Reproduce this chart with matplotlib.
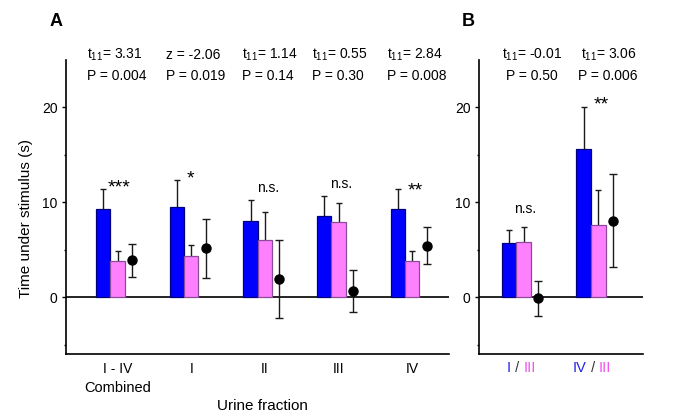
import matplotlib
matplotlib.use("Agg")
import matplotlib.pyplot as plt
import numpy as np

plt.rcParams['font.family'] = ['Liberation Sans', 'DejaVu Sans']
plt.rcParams['mathtext.fontset'] = 'custom'
plt.rcParams['mathtext.rm'] = 'Liberation Sans'
plt.rcParams['mathtext.it'] = 'Liberation Sans'

# ---- data ----
a_labels = ["I - IV", "I", "II", "III", "IV"]
a_blue = [9.27, 9.57, 8.02, 8.55, 9.29]
a_blue_err = [2.13, 2.82, 2.25, 2.15, 2.11]
a_pink = [3.87, 4.40, 6.08, 7.92, 3.87]
a_pink_err = [1.00, 1.13, 2.90, 2.00, 1.02]
a_dot = [3.90, 5.20, 1.97, 0.70, 5.45]
a_dot_err = [1.73, 3.10, 4.10, 2.18, 1.97]
a_stat1 = [r"t$_{11}$= 3.31", "z = -2.06", r"t$_{11}$= 1.14", r"t$_{11}$= 0.55", r"t$_{11}$= 2.84"]
a_stat2 = ["P = 0.004", "P = 0.019", "P = 0.14", "P = 0.30", "P = 0.008"]
a_sig = ["***", "*", "n.s.", "n.s.", "**"]

b_labels = [("I", "III"), ("IV", "III")]
b_blue = [5.77, 15.63]
b_blue_err = [1.37, 4.43]
b_pink = [5.87, 7.63]
b_pink_err = [1.55, 3.67]
b_dot = [-0.10, 8.09]
b_dot_err = [1.82, 4.90]
b_stat1 = [r"t$_{11}$= -0.01", r"t$_{11}$= 3.06"]
b_stat2 = ["P = 0.50", "P = 0.006"]
b_sig = ["n.s.", "**"]

# ---- style ----
BLUE = '#0000FF'
BLUE_E = '#00007A'
PINK = '#FF80FF'
PINK_E = '#8A4C98'
ERR = '#1a1a1a'
W = 0.195
OFF = 0.195

fig = plt.figure(figsize=(6.85, 4.2), dpi=100)
axA = fig.add_axes([66/685, 1-353.5/420, 383/685, 293.5/420])
axB = fig.add_axes([479/685, 1-353.5/420, 164/685, 293.5/420])


def draw(ax, blue, berr, pink, perr, dot, derr):
    x = np.arange(len(blue))
    ax.axhline(0, color='black', lw=1.2, zorder=1)
    ax.bar(x - OFF, blue, W, color=BLUE, edgecolor=BLUE_E, lw=0.9, zorder=3)
    ax.bar(x, pink, W, color=PINK, edgecolor=PINK_E, lw=0.9, zorder=3)
    # one-sided errors on bars
    for xs, v, e in ((x - OFF, blue, berr), (x, pink, perr)):
        v = np.array(v); e = np.array(e)
        ax.errorbar(xs, v, yerr=[np.zeros_like(e), e], fmt='none', ecolor=ERR,
                    elinewidth=1.0, capsize=0, zorder=2)
        ax.plot(xs, v + e, ls='none', marker='_', ms=5, mew=1.0, color=ERR, zorder=2)
    ax.errorbar(x + OFF, dot, yerr=derr, fmt='o', color='black', ms=6.5,
                ecolor=ERR, elinewidth=1.0, capsize=2.6, capthick=1.0, zorder=4)
    ax.set_ylim(-5.9, 25)
    ax.set_yticks([0, 10, 20])
    ax.set_yticks([-5, 5, 15], minor=True)
    ax.tick_params(axis='y', which='major', direction='out', length=3, width=1,
                   labelsize=10, pad=3)
    ax.tick_params(axis='y', which='minor', direction='out', length=1.6, width=1)
    ax.tick_params(axis='x', length=0, labelsize=10, pad=6)
    for s in ('top', 'right'):
        ax.spines[s].set_visible(False)
    for s in ('left', 'bottom'):
        ax.spines[s].set_linewidth(1.2)


draw(axA, a_blue, a_blue_err, a_pink, a_pink_err, a_dot, a_dot_err)
draw(axB, b_blue, b_blue_err, b_pink, b_pink_err, b_dot, b_dot_err)

axA.set_xlim(-0.7, 4.5)
axB.set_xlim(-0.6, 1.6)
axA.set_xticks(range(len(a_labels)))
axA.set_xticklabels(a_labels)
axB.set_xticks(range(len(b_labels)))
axB.set_xticklabels(['', ''])

axA.text(0, -0.1175, "Combined", transform=axA.get_xaxis_transform(),
         ha='center', va='center', fontsize=10.5)
axA.text(0.512, -0.178, "Urine fraction", transform=axA.transAxes,
         ha='center', va='center', fontsize=11)
fig.text(26/685, 1-218.3/420, "Time under stimulus (s)", rotation=90,
         ha='center', va='center', fontsize=11)
fig.text(56/685, 1-22/420, "A", ha='center', va='center', fontsize=13, fontweight='bold')
fig.text(468/685, 1-22/420, "B", ha='center', va='center', fontsize=13, fontweight='bold')

# stats text
a_tx = [-0.411, 0.657, 1.692, 2.642, 3.655]
for xt, s1, s2 in zip(a_tx, a_stat1, a_stat2):
    axA.text(xt, 25.13, s1, ha='left', va='baseline', fontsize=10, clip_on=False)
    axA.text(xt, 22.86, s2, ha='left', va='baseline', fontsize=10, clip_on=False)
b_tx1 = [-0.295, 0.765]
b_tx2 = [-0.238, 0.725]
for x1, x2, s1, s2 in zip(b_tx1, b_tx2, b_stat1, b_stat2):
    axB.text(x1, 25.13, s1, ha='left', va='baseline', fontsize=10, clip_on=False)
    axB.text(x2, 22.86, s2, ha='left', va='baseline', fontsize=10, clip_on=False)

# significance marks
a_sig_pos = [(0.02, 11.05), (0.986, 12.0), (2.045, 11.13), (3.03, 11.48), (4.04, 10.77)]
for (xs, ys), s in zip(a_sig_pos, a_sig):
    fs = 10 if s == 'n.s.' else 14
    axA.text(xs, ys, s, ha='center', va='baseline', fontsize=fs)
b_sig_pos = [(0.017, 8.91), (1.047, 19.78)]
for (xs, ys), s in zip(b_sig_pos, b_sig):
    fs = 10 if s == 'n.s.' else 14
    axB.text(xs, ys, s, ha='center', va='baseline', fontsize=fs)

# coloured tick labels for panel B
LBLUE = '#2323E6'
LPINK = '#F050F0'
b_lab_left = [-0.228, 0.658]
for xl, (l1, l2) in zip(b_lab_left, b_labels):
    t1 = axB.text(xl, -0.027, l1, transform=axB.get_xaxis_transform(),
                  ha='left', va='top', fontsize=10.5, color=LBLUE)
    t2 = axB.annotate(" / ", xy=(1, 0), xycoords=t1, ha='left', va='bottom',
                      fontsize=10.5, color='#333333')
    axB.annotate(l2, xy=(1, 0), xycoords=t2, ha='left', va='bottom',
                 fontsize=10.5, color=LPINK)

fig.savefig("out.png", dpi=100)
